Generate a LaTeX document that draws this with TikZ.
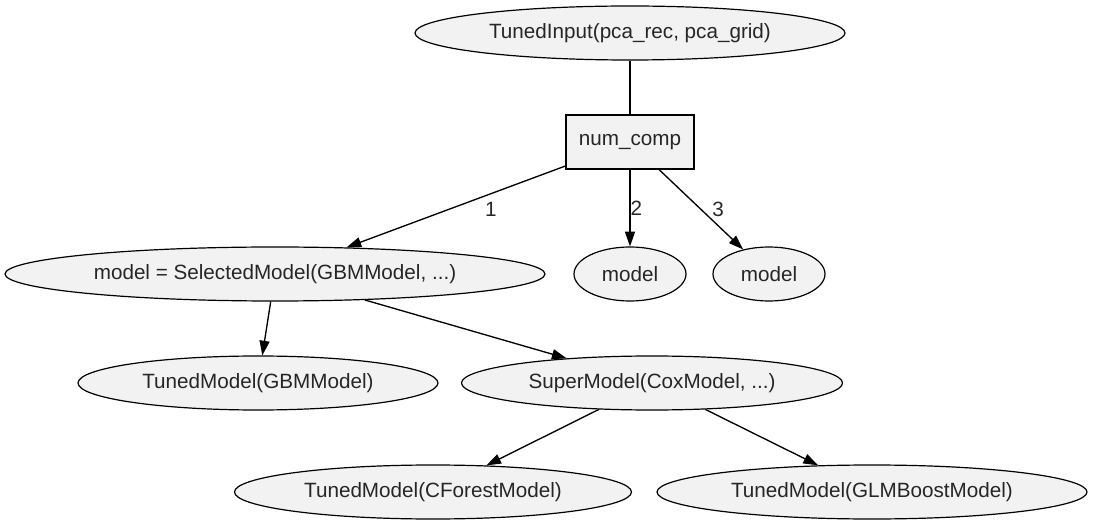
\documentclass[tikz,border=0pt]{standalone}
\usepackage{fontspec}
\setmainfont{Liberation Sans}
\usetikzlibrary{shapes.geometric, arrows.meta}
\definecolor{nodefill}{HTML}{F2F2F2}
\begin{document}
\begin{tikzpicture}[
                x = 0.75pt, y = -0.75pt,
                font = \fontsize{15.5}{18}\selectfont,
                every node/.append style = {text = black!85},
                ell/.style = {draw, line width = 0.9pt, ellipse, fill = nodefill, inner sep = 0mm, minimum height = 40.5pt},
                param/.style = {draw, line width = 0.9pt, rectangle, fill = nodefill, inner sep = 0mm, minimum width = 96pt, minimum height = 40.5pt},
                lab/.style = {inner sep = 0mm},
                arr/.style = {draw, line width = 1pt, -{Triangle[length = 11pt, width = 7.5pt]}},
                ln/.style = {draw, line width = 1pt},
            ]
            \useasboundingbox (0, 0) rectangle (1093, 527);

            \node (input) at (630, 33) [ell, minimum width = 322.5pt] {TunedInput(pca\_rec, pca\_grid)};
            \node (numcomp) at (630, 142) [param] {num\_comp};

            \node (select) at (275, 274) [ell, minimum width = 405pt] {model = SelectedModel(GBMModel, ...)};
            \node (modelB) at (630, 274) [ell, minimum width = 84pt] {model};
            \node (modelC) at (769, 274) [ell, minimum width = 84pt] {model};

            \node (gbm) at (258, 383) [ell, minimum width = 270pt] {TunedModel(GBMModel)};
            \node (super) at (652, 383) [ell, minimum width = 285.75pt] {SuperModel(CoxModel, ...)};

            \node (cforest) at (433, 492) [ell, minimum width = 297.75pt] {TunedModel(CForestModel)};
            \node (glmboost) at (872, 492) [ell, minimum width = 322.5pt] {TunedModel(GLMBoostModel)};

            \path[ln] (input) -- (numcomp);
            \path[arr] (numcomp) -- (select) node[lab, pos = 0.35, anchor = north, yshift = -5pt, xshift = 1.5pt] {1};
            \path[arr] (numcomp) -- (modelB) node[lab, pos = 0.5, anchor = west] {2};
            \path[arr] (numcomp) -- (modelC) node[lab, pos = 0.5, anchor = west, xshift = 8pt] {3};

            \path[arr] (select) -- (gbm);
            \path[arr] (select) -- (super);
            \path[arr] (super) -- (cforest);
            \path[arr] (super) -- (glmboost);
        \end{tikzpicture}
\end{document}
